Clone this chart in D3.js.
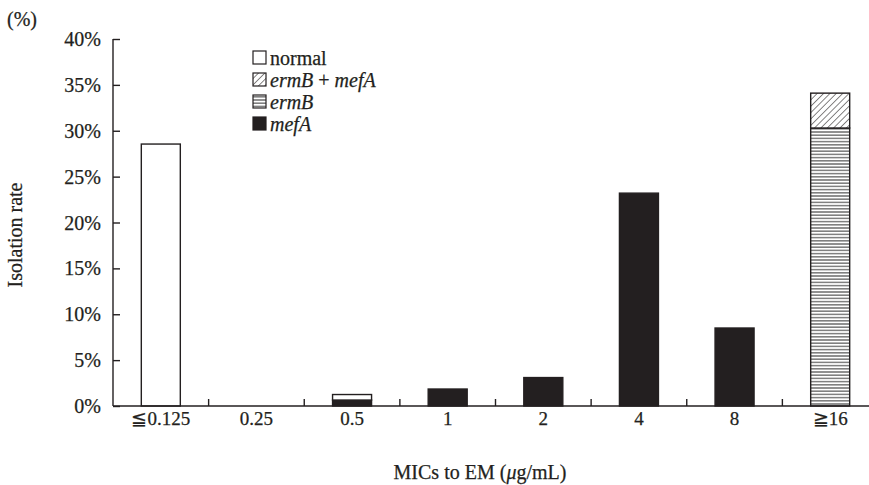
<!DOCTYPE html>
<html><head><meta charset="utf-8">
<script src="https://cdn.jsdelivr.net/npm/d3@7"></script>
<style>body{margin:0;background:#fff}svg{display:block}text{font-family:"Liberation Serif","Times New Roman",serif;fill:#231f20;stroke:#231f20;stroke-width:0.25px}</style>
</head><body><svg id="c" width="869" height="485"></svg>
<script>
const categories = ["≦0.125","0.25","0.5","1","2","4","8","≧16"];
const normal   = [28.55, 0, 0.6, 0, 0, 0, 0, 0];
const ermBmefA = [0, 0, 0, 0, 0, 0, 0, 3.8];
const ermB     = [0, 0, 0, 0, 0, 0, 0, 30.3];
const mefA     = [0, 0, 0.65, 1.85, 3.1, 23.2, 8.5, 0];
const yTicks   = [0,5,10,15,20,25,30,35,40];

const keys = ["mefA","ermB","ermBmefA","normal"];
const series = {mefA, ermB, ermBmefA, normal};
const rows = categories.map((c,i)=>{const r={cat:c}; keys.forEach(k=>r[k]=series[k][i]); return r;});
const stack = d3.stack().keys(keys)(rows);

const ink = "#231f20";
const svg = d3.select("#c");
const defs = svg.append("defs");
const ph = defs.append("pattern").attr("id","hor").attr("patternUnits","userSpaceOnUse").attr("width",8).attr("height",3.2);
ph.append("rect").attr("width",8).attr("height",3.2).attr("fill","#fff");
ph.append("line").attr("x1",0).attr("x2",8).attr("y1",0.8).attr("y2",0.8).attr("stroke","#333").attr("stroke-width",1);
const pd = defs.append("pattern").attr("id","diag").attr("patternUnits","userSpaceOnUse").attr("width",4.5).attr("height",4.5).attr("patternTransform","rotate(45)");
pd.append("rect").attr("width",4.5).attr("height",4.5).attr("fill","#fff");
pd.append("line").attr("x1",0).attr("x2",0).attr("y1",0).attr("y2",4.5).attr("stroke",ink).attr("stroke-width",1.1);

const fills = {mefA: ink, ermB: "url(#hor)", ermBmefA: "url(#diag)", normal: "#fff"};

const x = d3.scaleBand().domain(categories).range([113, 878]).paddingInner(0).paddingOuter(0);
const y = d3.scaleLinear().domain([0,40]).range([406, 39]);
const bw = 39;

// bars
stack.forEach(s=>{
  svg.append("g").selectAll("rect").data(s.filter(d=>d[1]-d[0]>0)).join("rect")
    .attr("x", d=>x(d.data.cat)+x.bandwidth()/2-bw/2)
    .attr("width", bw)
    .attr("y", d=>y(d[1]))
    .attr("height", d=>y(d[0])-y(d[1]))
    .attr("fill", fills[s.key])
    .attr("stroke", ink).attr("stroke-width",1.4);
});

// y axis
const ya = svg.append("g").attr("transform","translate(113,0)")
  .call(d3.axisRight(y).tickValues(yTicks).tickSize(7).tickFormat(""));
ya.select(".domain").attr("stroke",ink).attr("stroke-width",1.4).attr("d","M0,39V406");
ya.selectAll(".tick line").attr("stroke",ink).attr("stroke-width",1.4);
svg.append("g").selectAll("text").data(yTicks).join("text")
  .attr("x",101).attr("y",d=>y(d)).attr("dy","0.35em").attr("text-anchor","end")
  .attr("font-size",20).text(d=>d+"%");

// x axis
const xa = svg.append("g").attr("transform","translate(0,406)");
xa.append("line").attr("x1",113).attr("x2",869).attr("stroke",ink).attr("stroke-width",1.4);
xa.selectAll("line.t").data(categories.slice(1)).join("line").attr("class","t")
  .attr("x1",d=>x(d)).attr("x2",d=>x(d)).attr("y1",0).attr("y2",-7)
  .attr("stroke",ink).attr("stroke-width",1.4);
svg.append("g").selectAll("text").data(categories).join("text")
  .attr("x",d=>x(d)+x.bandwidth()/2).attr("y",425).attr("text-anchor","middle")
  .attr("font-size",19).text(d=>d);

// titles
svg.append("text").attr("x",480).attr("y",479).attr("text-anchor","middle").attr("font-size",20)
  .html('MICs to EM (<tspan font-style="italic">μ</tspan>g/mL)');
svg.append("text").attr("transform","translate(22,235) rotate(-90)").attr("text-anchor","middle")
  .attr("font-size",20).text("Isolation rate");
svg.append("text").attr("x",7).attr("y",26).attr("font-size",20).text("(%)");

// legend
const legend = [
  {k:"normal", html:'normal'},
  {k:"ermBmefA", html:'<tspan font-style="italic">ermB</tspan> + <tspan font-style="italic">mefA</tspan>'},
  {k:"ermB", html:'<tspan font-style="italic">ermB</tspan>'},
  {k:"mefA", html:'<tspan font-style="italic">mefA</tspan>'}
];
const lg = svg.append("g");
legend.forEach((l,i)=>{
  const cy = 57.5 + i*22;
  lg.append("rect").attr("x",253).attr("y",cy-6.5).attr("width",13).attr("height",13)
    .attr("fill",fills[l.k]).attr("stroke",ink).attr("stroke-width",1.2);
  lg.append("text").attr("x",270).attr("y",cy).attr("dy","0.35em").attr("font-size",20).html(l.html);
});
</script></body></html>
